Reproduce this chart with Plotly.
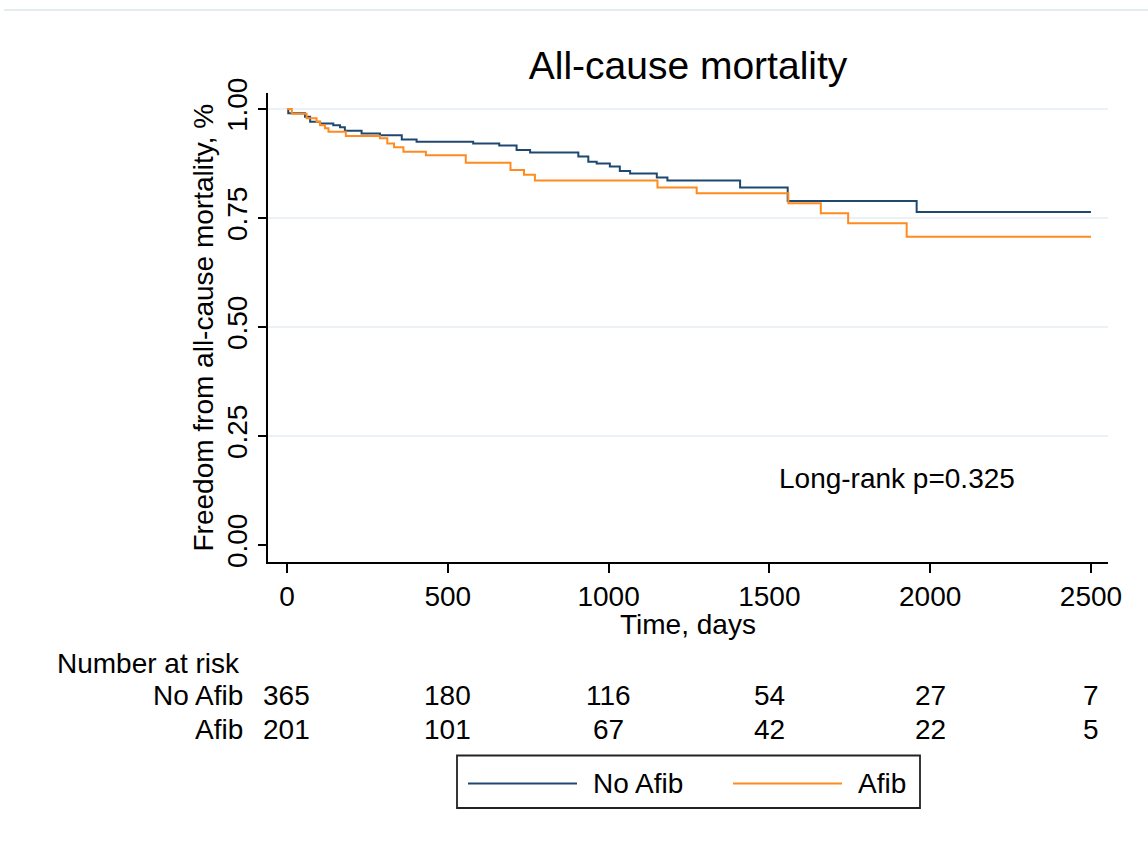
import plotly.graph_objects as go

# ---- data ----
time_no_afib = [0, 4, 56, 72, 103, 144, 165, 180, 232, 289, 357, 403, 579, 660, 714, 756,
                906, 937, 963, 1004, 1035, 1067, 1150, 1183, 1409, 1557, 1958, 2500]
surv_no_afib = [1.0, 0.990, 0.982, 0.971, 0.967, 0.963, 0.958, 0.950, 0.944, 0.940, 0.930, 0.925,
                0.921, 0.916, 0.906, 0.900, 0.891, 0.879, 0.875, 0.868, 0.858, 0.852, 0.843,
                0.836, 0.820, 0.789, 0.764, 0.764]

time_afib = [0, 15, 61, 92, 103, 118, 129, 183, 289, 312, 333, 362, 432, 556, 695, 737, 771,
             1152, 1274, 1559, 1660, 1745, 1927, 2500]
surv_afib = [1.0, 0.989, 0.979, 0.971, 0.963, 0.956, 0.948, 0.938, 0.933, 0.921, 0.912, 0.902,
             0.894, 0.877, 0.860, 0.849, 0.836, 0.820, 0.807, 0.784, 0.761, 0.738, 0.707, 0.707]

x_ticks = [0, 500, 1000, 1500, 2000, 2500]
y_ticks = [0.0, 0.25, 0.50, 0.75, 1.00]
grid_vals = [0.25, 0.50, 0.75, 1.00]

risk_groups = ["No Afib", "Afib"]
risk_no_afib = [365, 180, 116, 54, 27, 7]
risk_afib = [201, 101, 67, 42, 22, 5]

title_text = "All-cause mortality"
x_title = "Time, days"
y_title = "Freedom from all-cause mortality, %"
pvalue_text = "Long-rank p=0.325"

# ---- style ----
FONT = "Arial, 'Liberation Sans', sans-serif"
C_NO = "#1f4870"
C_AF = "#ff8b1f"
GRID = "#e4edf0"
W, H = 1148, 842
L, R, T, B = 268, 40, 93, 280
PW, PH = W - L - R, H - T - B


def px_x(p):
    return (p - L) / PW


def px_y(p):
    return (H - B - p) / PH


fig = go.Figure()
fig.add_trace(go.Scatter(x=time_no_afib, y=surv_no_afib, mode="lines", line_shape="hv",
                         line=dict(color=C_NO, width=2), name="No Afib", showlegend=False))
fig.add_trace(go.Scatter(x=time_afib, y=surv_afib, mode="lines", line_shape="hv",
                         line=dict(color=C_AF, width=2), name="Afib", showlegend=False))

shapes = []
for g in grid_vals:
    shapes.append(dict(type="line", xref="paper", x0=0, x1=1, yref="y", y0=g, y1=g,
                       line=dict(color=GRID, width=1.5), layer="below"))
# faint line at the very top of the image
shapes.append(dict(type="line", xref="paper", yref="paper", x0=px_x(4), x1=px_x(1148),
                   y0=px_y(10), y1=px_y(10), line=dict(color="#e3ecef", width=2)))
# legend box
shapes.append(dict(type="rect", xref="paper", yref="paper", x0=px_x(457), x1=px_x(920),
                   y0=px_y(755.5), y1=px_y(808), line=dict(color="#222222", width=1.8)))
shapes.append(dict(type="line", xref="paper", yref="paper", x0=px_x(468), x1=px_x(577),
                   y0=px_y(783.5), y1=px_y(783.5), line=dict(color=C_NO, width=2)))
shapes.append(dict(type="line", xref="paper", yref="paper", x0=px_x(733), x1=px_x(842),
                   y0=px_y(783.5), y1=px_y(783.5), line=dict(color=C_AF, width=2)))

ann = []
fs = 28
ann.append(dict(text=x_title, xref="paper", yref="paper", x=0.5, y=px_y(624),
                xanchor="center", yanchor="middle", showarrow=False, font=dict(size=fs)))
ann.append(dict(text=y_title, xref="paper", yref="paper", x=px_x(203), y=0.5, textangle=-90,
                xanchor="center", yanchor="middle", showarrow=False, font=dict(size=fs)))
ann.append(dict(text=pvalue_text, xref="paper", yref="paper", x=px_x(777), y=px_y(478),
                xanchor="left", yanchor="middle", showarrow=False, font=dict(size=fs)))
ann.append(dict(text="Number at risk", xref="paper", yref="paper", x=px_x(55), y=px_y(663),
                xanchor="left", yanchor="middle", showarrow=False, font=dict(size=fs)))
row_y = [696, 729]
for grp, vals, ry in zip(risk_groups, [risk_no_afib, risk_afib], row_y):
    ann.append(dict(text=grp, xref="paper", yref="paper", x=px_x(245), y=px_y(ry),
                    xanchor="right", yanchor="middle", showarrow=False, font=dict(size=fs)))
    for t, v in zip(x_ticks, vals):
        ann.append(dict(text=str(v), xref="x", yref="paper", x=t, y=px_y(ry),
                        xanchor="center", yanchor="middle", showarrow=False, font=dict(size=fs)))
ann.append(dict(text="No Afib", xref="paper", yref="paper", x=px_x(591), y=px_y(783),
                xanchor="left", yanchor="middle", showarrow=False, font=dict(size=fs)))
ann.append(dict(text="Afib", xref="paper", yref="paper", x=px_x(856), y=px_y(783),
                xanchor="left", yanchor="middle", showarrow=False, font=dict(size=fs)))

fig.update_layout(
    width=W, height=H,
    margin=dict(l=L, r=R, t=T, b=B),
    paper_bgcolor="white", plot_bgcolor="white",
    font=dict(family=FONT, color="black", size=fs),
    title=dict(text=title_text, x=0.5, xref="paper", xanchor="center",
               y=1 - 65 / H, yref="container", yanchor="middle",
               font=dict(size=39, color="black")),
    showlegend=False,
    shapes=shapes,
    annotations=ann,
)
fig.update_xaxes(range=[-59, 2553], tickvals=x_ticks, showgrid=False, zeroline=False,
                 showline=True, linecolor="black", linewidth=1.5,
                 ticks="outside", ticklen=9, tickwidth=1.5, tickcolor="black",
                 tickfont=dict(size=fs))
fig.update_yaxes(range=[-0.039, 1.0367], tickvals=y_ticks, tickformat=".2f", showgrid=False,
                 zeroline=False, showline=True, linecolor="black", linewidth=1.5,
                 ticks="outside", ticklen=8, tickwidth=1.5, tickcolor="black",
                 tickangle=-90, tickfont=dict(size=fs))

fig.write_html("out.html", config={"displayModeBar": False},
               post_script="document.body.style.margin='0px';")
